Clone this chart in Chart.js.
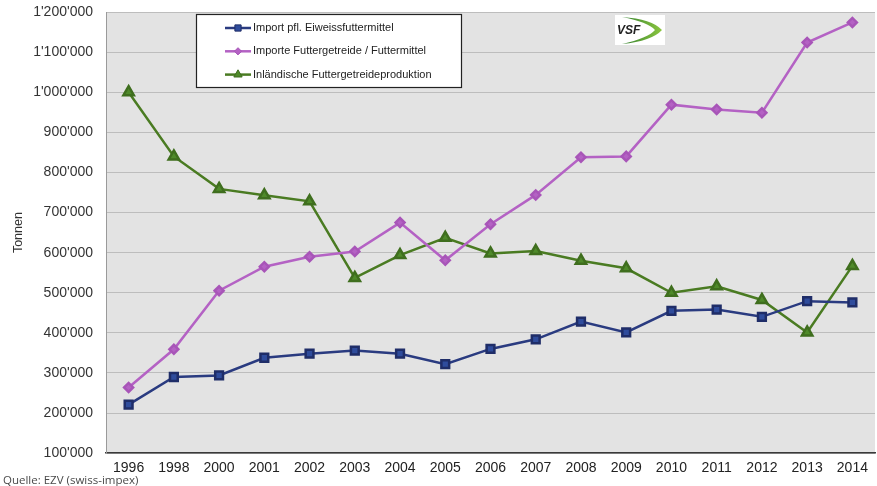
<!DOCTYPE html>
<html>
<head>
<meta charset="utf-8">
<script src="https://cdn.jsdelivr.net/npm/chart.js@4/dist/chart.umd.min.js"></script>
<style>
    html, body { margin: 0; padding: 0; background: #fff; }
    #wrap { width: 877px; height: 486px; position: relative; }
</style>
</head>
<body>
<div id="wrap"><canvas id="chart"></canvas></div>
<script>
const years = ["1996", "1998", "2000", "2001", "2002", "2003", "2004", "2005", "2006", "2007", "2008", "2009", "2010", "2011", "2012", "2013", "2014"];
const importEiweiss = [221000, 290000, 294000, 338000, 348000, 356000, 348000, 322000, 360000, 384000, 428000, 401000, 455000, 458000, 440000, 479000, 476000];
const importGetreide = [264000, 359000, 505000, 565000, 590000, 603000, 675000, 581000, 671000, 744000, 838000, 840000, 969000, 957000, 949000, 1124000, 1174000];
const inlandProduktion = [1000000, 840000, 759000, 743000, 728000, 537000, 594000, 637000, 598000, 604000, 580000, 561000, 500000, 516000, 482000, 401000, 567000];
const seriesNames = ["Import pfl. Eiweissfuttermittel", "Importe Futtergetreide / Futtermittel", "Inländische Futtergetreideproduktion"];
const sourceText = "Quelle: EZV (swiss-impex)";

const FONT = "Arial, 'Liberation Sans', sans-serif";

function swissFormat(v) {
    return String(v).replace(/\B(?=(\d{3})+(?!\d))/g, "'");
}

// grey plot background
const plotBackground = {
    id: "plotBackground",
    beforeDraw(chart) {
        const { ctx, chartArea: a } = chart;
        ctx.save();
        ctx.fillStyle = "#e3e3e3";
        ctx.fillRect(a.left, a.top, a.right - a.left, a.bottom - a.top);
        ctx.restore();
    }
};

// boxed legend inside the plot
const boxLegend = {
    id: "boxLegend",
    afterDraw(chart) {
        const ctx = chart.ctx;
        const x = 196, y = 14, w = 265, h = 73;
        ctx.save();
        ctx.fillStyle = "#ffffff";
        ctx.fillRect(x, y, w, h);
        ctx.strokeStyle = "#222";
        ctx.lineWidth = 1.2;
        ctx.strokeRect(x + 0.5, y + 0.5, w, h);
        chart.data.datasets.forEach((ds, i) => {
            const ly = 28 + i * 23.3;
            ctx.strokeStyle = ds.borderColor;
            ctx.lineWidth = 2.5;
            ctx.beginPath();
            ctx.moveTo(225, ly);
            ctx.lineTo(251, ly);
            ctx.stroke();
            ctx.fillStyle = ds.pointBackgroundColor;
            ctx.strokeStyle = ds.pointBorderColor;
            ctx.lineWidth = 1;
            Chart.helpers.drawPoint(ctx, { pointStyle: ds.pointStyle, radius: ds.pointRadius * 0.8, rotation: 0, borderWidth: 1 }, 238, ly);
            ctx.fillStyle = "#222";
            ctx.font = "11px " + FONT;
            ctx.textBaseline = "middle";
            ctx.textAlign = "left";
            ctx.fillText(ds.label, 253, ly);
        });
        ctx.restore();
    }
};

// small VSF logo and source line
const decorations = {
    id: "decorations",
    afterDraw(chart) {
        const ctx = chart.ctx;
        ctx.save();
        ctx.fillStyle = "#ffffff";
        ctx.fillRect(615, 15, 50, 30);
        const g = ctx.createLinearGradient(620, 0, 662, 0);
        g.addColorStop(0, "#2f7d2f");
        g.addColorStop(1, "#8cc63f");
        ctx.fillStyle = g;
        ctx.beginPath();
        ctx.moveTo(622, 17);
        ctx.quadraticCurveTo(652, 19, 662, 30);
        ctx.quadraticCurveTo(652, 41, 622, 44);
        ctx.quadraticCurveTo(648, 38, 655, 30);
        ctx.quadraticCurveTo(648, 22, 622, 17);
        ctx.fill();
        ctx.fillStyle = "#222";
        ctx.font = "italic bold 12px " + FONT;
        ctx.textBaseline = "middle";
        ctx.fillText("VSF", 617, 31);

        ctx.fillStyle = "#4a4a4a";
        ctx.font = "11.5px 'Open Sans', " + FONT;
        ctx.textBaseline = "alphabetic";
        ctx.textAlign = "left";
        ctx.fillText(sourceText, 3, 484);
        ctx.restore();
    }
};

new Chart(document.getElementById("chart").getContext("2d"), {
    type: "line",
    data: {
        labels: years,
        datasets: [{
            label: seriesNames[0],
            data: importEiweiss,
            borderColor: "#2a3b80",
            pointBackgroundColor: "#2f4c9c",
            pointBorderColor: "#1f2d68",
            pointStyle: "rect",
            pointRadius: 5.5,
            borderWidth: 2.5,
            fill: false
        }, {
            label: seriesNames[1],
            data: importGetreide,
            borderColor: "#b462c4",
            pointBackgroundColor: "#b462c4",
            pointBorderColor: "#a855b8",
            pointStyle: "rectRot",
            pointRadius: 4.5,
            borderWidth: 2.5,
            fill: false
        }, {
            label: seriesNames[2],
            data: inlandProduktion,
            borderColor: "#4a7b22",
            pointBackgroundColor: "#4f8a2a",
            pointBorderColor: "#3f6e1e",
            pointStyle: "triangle",
            pointRadius: 6,
            borderWidth: 2.5,
            fill: false
        }]
    },
    options: {
        responsive: true,
        maintainAspectRatio: false,
        animation: false,
        layout: {
            autoPadding: false,
            padding: { top: 12, right: 2, bottom: 2, left: 0 }
        },
        plugins: {
            legend: { display: false },
            tooltip: { enabled: false }
        },
        scales: {
            x: {
                type: "category",
                offset: true,
                grid: { display: false, drawTicks: false },
                border: { display: true, color: "#3a3a3a", width: 1.5 },
                ticks: {
                    color: "#222",
                    padding: 7,
                    maxRotation: 0,
                    autoSkip: false,
                    font: { family: FONT, size: 14 }
                }
            },
            y: {
                min: 100000,
                max: 1200000,
                afterFit(scale) {
                    scale.width = 106;
                    scale.paddingTop = 0;
                    scale.paddingBottom = 0;
                },
                grid: { color: "#bdbdbd", lineWidth: 1, drawTicks: false },
                border: { display: true, color: "#9a9a9a", width: 1 },
                title: {
                    display: true,
                    text: "Tonnen",
                    color: "#333",
                    padding: { top: 11, bottom: 0 },
                    font: { family: FONT, size: 12.5 }
                },
                ticks: {
                    stepSize: 100000,
                    color: "#333",
                    padding: 13,
                    font: { family: FONT, size: 14 },
                    callback: value => swissFormat(value)
                }
            }
        }
    },
    plugins: [plotBackground, boxLegend, decorations]
});
</script>
</body>
</html>
